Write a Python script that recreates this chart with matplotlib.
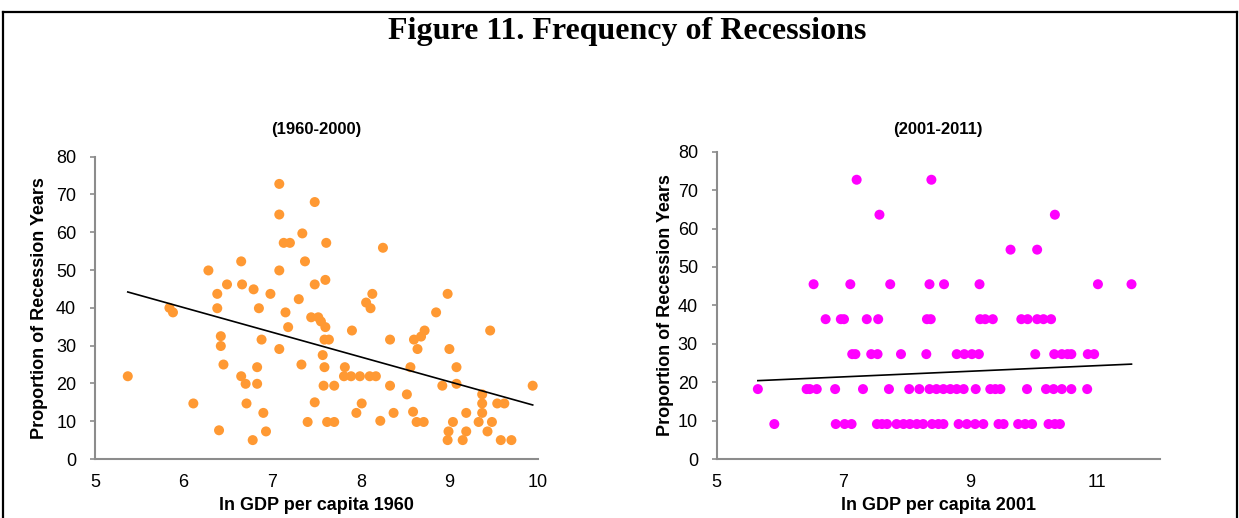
import numpy as np
import matplotlib
matplotlib.use("Agg")
import matplotlib.pyplot as plt
from matplotlib.lines import Line2D

# ---------------- data ----------------
gdp_1960 = [5.37, 5.84, 5.88, 6.11, 6.28, 6.38, 6.38, 6.42, 6.42, 6.45, 6.40, 6.49,
            6.65, 6.66, 6.65, 6.70, 6.71, 6.78, 6.79, 6.85, 6.83, 6.83, 6.88, 6.90,
            6.93, 6.98, 7.08, 7.08, 7.13, 7.20, 7.08, 7.15, 7.18, 7.08, 7.30, 7.34,
            7.37, 7.33, 7.40, 7.48, 7.48, 7.48, 7.44, 7.52, 7.55, 7.60, 7.60, 7.61,
            7.59, 7.64, 7.57, 7.59, 7.58, 7.62, 7.70, 7.70, 7.82, 7.81, 7.89, 7.99,
            7.90, 7.95, 8.01, 8.06, 8.11, 8.13, 8.10, 8.17, 8.22, 8.25, 8.33, 8.33,
            8.37, 8.52, 8.56, 8.59, 8.60, 8.68, 8.72, 8.64, 8.63, 8.71, 8.85, 8.98,
            9.00, 8.92, 9.08, 9.08, 9.04, 8.99, 8.98, 9.19, 9.19, 9.15, 9.33, 9.37,
            9.37, 9.37, 9.46, 9.48, 9.43, 9.54, 9.62, 9.58, 9.70, 9.94]
rec_1960 = [21.9, 40.0, 38.8, 14.7, 49.9, 43.7, 39.9, 32.5, 29.9, 25.0, 7.6, 46.2,
            52.3, 46.2, 21.9, 19.9, 14.7, 5.0, 44.9, 39.9, 24.3, 19.9, 31.6, 12.2,
            7.3, 43.7, 72.8, 64.7, 57.2, 57.2, 49.9, 38.8, 34.9, 29.1, 42.3, 59.7,
            52.3, 25.0, 9.8, 15.0, 68.0, 46.2, 37.5, 37.5, 36.4, 34.9, 47.4, 57.2,
            31.6, 31.6, 27.5, 24.3, 19.4, 9.8, 9.8, 19.4, 24.3, 21.9, 21.9, 21.9,
            34.0, 12.2, 14.7, 41.4, 39.9, 43.7, 21.9, 21.9, 10.1, 55.9, 31.6, 19.4,
            12.2, 17.1, 24.3, 12.5, 31.6, 32.4, 34.0, 29.1, 9.8, 9.8, 38.8, 43.7,
            29.1, 19.4, 24.3, 19.9, 9.8, 7.3, 5.0, 12.2, 7.3, 5.0, 9.8, 17.1,
            14.7, 12.2, 34.0, 9.8, 7.3, 14.7, 14.7, 5.0, 5.0, 19.4]

gdp_2001 = ([7.21, 8.39] +
            [7.57, 10.34] +
            [9.64, 10.06] +
            [6.53, 7.11, 7.74, 8.36, 8.59, 9.15, 11.02, 11.55] +
            [6.72, 6.96, 7.01, 7.37, 7.55, 8.32, 8.38, 9.16, 9.24, 9.36,
             9.81, 9.91, 10.06, 10.16, 10.28] +
            [7.14, 7.19, 7.44, 7.54, 7.91, 8.31, 8.79, 8.91, 9.03, 9.14,
             10.03, 10.33, 10.45, 10.54, 10.60, 10.86, 10.96] +
            [5.65, 6.42, 6.47, 6.58, 6.87, 7.31, 7.72, 8.04, 8.20, 8.36, 8.47,
             8.58, 8.69, 8.79, 8.90, 9.09, 9.32, 9.40, 9.48, 9.90, 10.20, 10.32,
             10.45, 10.60, 10.85] +
            [5.91, 6.88, 7.02, 7.13, 7.53, 7.61, 7.69, 7.84, 7.95, 8.05, 8.16,
             8.26, 8.40, 8.50, 8.58, 8.82, 8.95, 9.08, 9.21, 9.45, 9.53, 9.76,
             9.87, 9.98, 10.24, 10.34, 10.42])
rec_2001 = ([72.7] * 2 + [63.6] * 2 + [54.5] * 2 + [45.5] * 8 + [36.4] * 15 +
            [27.3] * 17 + [18.2] * 25 + [9.1] * 27)

# linear trend lines as drawn in the chart (value at leftmost / rightmost point)
trend_1960 = [44.2, 14.3]
trend_2001 = [20.4, 24.7]

title = "Figure 11. Frequency of Recessions"
panel_titles = ["(1960-2000)", "(2001-2011)"]
xlabels = ["ln GDP per capita 1960", "ln GDP per capita 2001"]
ylabel = "Proportion of Recession Years"
xticks_left = [5, 6, 7, 8, 9, 10]
xticks_right = [5, 7, 9, 11]
yticks = [0, 10, 20, 30, 40, 50, 60, 70, 80]

# ---------------- figure ----------------
W, H = 1239, 518
fig = plt.figure(figsize=(W / 100, H / 100), dpi=100)
plt.rcParams['font.family'] = ['Liberation Sans', 'DejaVu Sans']

# outer frame (left, top, right)
frame_kw = dict(color='black', lw=1.6, transform=fig.transFigure)
fig.add_artist(Line2D([3 / W, 3 / W], [0, 1 - 12 / H], **frame_kw))
fig.add_artist(Line2D([3 / W, 1237 / W], [1 - 12 / H, 1 - 12 / H], **frame_kw))
fig.add_artist(Line2D([1237 / W, 1237 / W], [0, 1 - 12 / H], **frame_kw))

fig.text(627 / W, 1 - 32 / H, title, ha='center', va='center', fontsize=23,
         fontweight='bold', family='Liberation Serif')

ax1 = fig.add_axes([95 / W, 1 - 459 / H, 443 / W, (459 - 156.7) / H])
ax2 = fig.add_axes([716.7 / W, 1 - 459 / H, 443.3 / W, (459 - 151.7) / H])

specs = [
    (ax1, gdp_1960, rec_1960, trend_1960, '#FF9933', (5, 10), xticks_left,
     panel_titles[0], xlabels[0], 5.5),
    (ax2, gdp_2001, rec_2001, trend_2001, '#FF00FF', (5, 12), xticks_right,
     panel_titles[1], xlabels[1], 2.5),
]
axis_gray = '#8C8C8C'
for ax, xs, ys, tr, col, xlim, xt, pt, xl, ylpad in specs:
    xs = np.asarray(xs)
    ys = np.asarray(ys)
    ax.scatter(xs, ys, s=52, color=col, edgecolors='none', zorder=3)
    ax.plot([xs.min(), xs.max()], tr, color='black', lw=1.2, zorder=4)
    ax.set_xlim(*xlim)
    ax.set_ylim(0, 80)
    ax.set_xticks(xt)
    ax.set_yticks(yticks)
    for s in ['top', 'right']:
        ax.spines[s].set_visible(False)
    for s in ['left', 'bottom']:
        ax.spines[s].set_color(axis_gray)
        ax.spines[s].set_linewidth(1.5)
    ax.tick_params(axis='y', length=3.5, width=1.2, color=axis_gray, pad=10,
                   labelsize=13, labelcolor='black')
    ax.tick_params(axis='x', length=0, pad=11, labelsize=13, labelcolor='black')
    ax.set_xlabel(xl, fontsize=13, fontweight='bold', labelpad=4)
    ax.set_ylabel(ylabel, fontsize=13, fontweight='bold', labelpad=ylpad)
    pos = ax.get_position()
    fig.text(pos.x0 + pos.width / 2, 1 - 130 / H, pt, ha='center', va='center',
             fontsize=12, fontweight='bold')

fig.savefig('out.png', dpi=100)
